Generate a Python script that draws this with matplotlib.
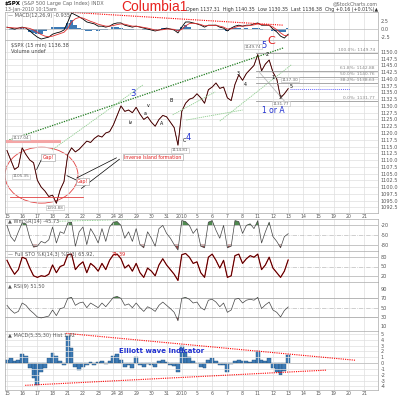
import numpy as np
import matplotlib.pyplot as plt
from matplotlib.patches import Ellipse

W, H = 400, 398

# trading days on the x axis (Dec 24 was a half session)
day_labels = ['15', '16', '17', '18', '21', '22', '23', '24', '28', '29', '30', '31', '2010',
              '5', '6', '7', '8', '11', '12', '13', '14', '15', '19', '20', '21']
day_lengths = [1, 1, 1, 1, 1, 1, 1, 0.5, 1, 1, 1, 1, 1, 1, 1, 1, 1, 1, 1, 1, 1, 1, 1, 1, 1]

# one value every quarter session, Dec 15 open -> Jan 13 10:15
price = [1113.5, 1110, 1106.5, 1107.5, 1114.5, 1112, 1110, 1109,
         1102.5, 1100, 1098.5, 1096.5, 1097, 1094, 1099, 1102,
         1112, 1114.5, 1113, 1114, 1115.5, 1117, 1116.5, 1118,
         1119, 1118.5, 1120, 1120.5, 1123, 1126.5, 1130, 1128,
         1128.5, 1127.5, 1129.5, 1127, 1125, 1126, 1124, 1122.5,
         1125, 1126.5, 1126, 1124, 1122, 1115.5, 1128, 1131,
         1132.5, 1133, 1134.5, 1133, 1131, 1136, 1137, 1138.5,
         1136.5, 1137, 1133, 1132, 1138, 1141.5, 1139.5, 1142,
         1143.5, 1145, 1149, 1143, 1145.5, 1147, 1142.5, 1140,
         1133, 1134.5, 1136.4]

macd_line = [0.6, 0.3, 0, 0.3, 0.6, 0.3, -0.6, -1.6, -2.5, -3.1, -2.8, -2.5, -1.6, -1.2, -0.9,
             -0.3, 2.2, 5.0, 4.4, 3.8, 3.1, 2.2, 1.9, 1.6, 0.9, 0.9, 0.6, 0.9, 1.6, 1.9,
             1.9, 1.2, 0.9, 0.6, 0.9, 0.6, 0.3, 0, -0.3, -0.6, -0.3, 0, 0.3, 0, -0.3,
             -1.2, 0.6, 2.2, 2.2, 1.9, 1.6, 1.2, 0.6, 1.2, 1.2, 1.2, 0.6, 0.3, -0.6, 0.3,
             0.9, 1.2, 0.9, 1.2, 1.2, 1.6, 1.9, 1.2, 1.2, 1.2, 0, -0.9, -2.2, -2.8, -1.6]
macd_signal = [0.5, 0.45, 0.35, 0.3, 0.4, 0.4, 0.2, -0.3, -1.0, -1.7, -2.2, -2.4, -2.2, -1.8, -1.4,
               -1.0, 0.2, 2.2, 3.2, 3.6, 3.4, 2.9, 2.4, 2.0, 1.5, 1.2, 0.9, 0.9, 1.1, 1.4,
               1.6, 1.5, 1.2, 0.9, 0.9, 0.7, 0.5, 0.3, 0.0, -0.3, -0.3, -0.2, 0.0, 0.0, -0.1,
               -0.6, -0.1, 1.0, 1.7, 1.8, 1.7, 1.4, 1.0, 1.1, 1.1, 1.2, 0.9, 0.6, 0.0, 0.1,
               0.5, 0.9, 0.9, 1.0, 1.1, 1.3, 1.6, 1.4, 1.3, 1.2, 0.6, -0.2, -1.2, -2.0, -1.9]

wpr = [-20, -55, -70, -40, -12, -15, -60, -88, -85, -70, -75, -65, -25, -75, -40, -45,
       -12, -10, -85, -40, -25, -80, -30, -50, -75, -30, -70, -25, -10, -8, -20, -60,
       -40, -70, -30, -80, -90, -40, -60, -85, -30, -20, -45, -60, -80, -97, -5, -8,
       -20, -45, -30, -85, -90, -10, -5, -35, -60, -20, -90, -85, -5, -8, -45, -20,
       -15, -30, -5, -75, -40, -10, -55, -70, -90, -55, -46]

sto = [70, 45, 25, 40, 80, 75, 45, 20, 15, 20, 18, 25, 55, 30, 50, 55,
       88, 90, 40, 55, 65, 30, 60, 50, 35, 60, 40, 70, 88, 90, 75, 45,
       55, 35, 60, 30, 15, 45, 35, 20, 55, 75, 55, 40, 25, 5, 88, 92,
       80, 60, 65, 30, 15, 80, 90, 70, 45, 70, 15, 20, 85, 90, 60, 75,
       85, 80, 90, 40, 55, 80, 45, 30, 15, 35, 71]

rsi = [55, 45, 38, 42, 60, 55, 45, 38, 30, 28, 30, 32, 45, 33, 48, 50,
       70, 72, 55, 60, 62, 50, 60, 55, 50, 60, 52, 62, 72, 74, 70, 55,
       58, 50, 60, 50, 42, 52, 48, 42, 55, 62, 55, 48, 40, 22, 70, 72,
       68, 60, 62, 50, 45, 66, 68, 62, 52, 60, 40, 45, 68, 70, 60, 66,
       68, 66, 72, 48, 56, 62, 45, 40, 30, 44, 51.5]

hist = [0.5, 0.8, 0.3, 0.6, 1.6, 1.2, -0.8, -2.5, -3.7, -1.5, -0.8, 0.8, 1.8, 1.2, 0.3,
        -0.3, 4.6, 2.6, -0.6, -1.1, -0.6, -0.4, 0.2, -0.3, 0.2, 0.4, -0.2, 0.3, 1.2, 1.5,
        0.6, -0.6, -0.4, -0.8, 1.1, -0.3, -0.6, -0.2, -0.4, -0.7, 0.3, 0.5, 0.2, -0.3, -0.5,
        -1.6, 2.9, 2.0, 1.0, 0.3, 0.1, -0.6, -0.9, 0.6, 0.8, 0.3, -0.3, -0.4, -1.6, -0.2,
        0.4, 0.5, 0.3, 0.4, 0.2, 0.5, 2.0, 0.6, 0.4, 0.8, -0.8, -1.5, -2.0, -1.3, 1.4]

# annotation geometry in (session, price)
trend_main = [(0, 1117.1), (18.2, 1151.5)]
trend_light = [[(2.96, 1113.7), (8.95, 1137.8)],
               [(10.9, 1126.7), (13.7, 1135.2)],
               [(11.8, 1124.8), (15.5, 1128.5)],
               [(14.0, 1124.4), (18.7, 1145.2)]]
fib_levels = [1149.74, 1142.88, 1140.76, 1138.63, 1131.77]
fib_names = ['100.0%', '61.8%', '50.0%', '38.2%', '0.0%']

x = np.arange(len(price)) * 0.25
starts = np.concatenate([[0], np.cumsum(day_lengths)[:-1]])
XMIN, XMAX = -0.13, 24.41
GRID = '#dedede'
FS = 3.6

fig = plt.figure(figsize=(W / 100, H / 100), dpi=100)


def panel(top, bottom, ylim, yticks, ylabels=None):
    ax = fig.add_axes([5 / W, 1 - bottom / H, 373 / W, (bottom - top) / H])
    ax.set_xlim(XMIN, XMAX)
    ax.set_ylim(*ylim)
    ax.set_xticks(starts)
    ax.set_xticklabels([])
    ax.set_yticks(yticks)
    ax.set_yticklabels(ylabels if ylabels else [f'{v:g}' for v in yticks])
    ax.yaxis.tick_right()
    ax.tick_params(length=0, labelsize=FS, colors='#555555', pad=2)
    ax.grid(True, axis='x', color=GRID, lw=0.5)
    for s in ax.spines.values():
        s.set_color('#aaaaaa')
        s.set_linewidth(0.5)
    return ax


# ---------- top MACD ----------
ax0 = panel(12, 40, (-3.4, 5.3), [-2.5, 0, 2.5], ['-2.5', '0.0', '2.5'])
ml = np.array(macd_line)
sg = np.array(macd_signal)
ax0.axhline(0, color='#bbbbbb', lw=0.5)
ax0.fill_between(x, ml - sg, 0, color='#3d7ab5', lw=0, step='mid')
ax0.plot(x, ml, color='black', lw=0.6)
ax0.plot(x, sg, color='#e03030', lw=0.6)
ax0.plot([4.2, 18.2], [5.2, 1.2], color='red', lw=0.8, ls=(0, (1, 1)))
ax0.text(0.1, 4.2, '— MACD(12,26,9) -0.935', fontsize=FS, color='#555555', va='center')

# ---------- price ----------
ax1 = panel(40, 213, (1090.4, 1154.4), np.arange(1092.5, 1151, 2.5),
            [f'{v:.1f}' for v in np.arange(1092.5, 1151, 2.5)])
ax1.grid(True, axis='y', color=GRID, lw=0.5)
ax1.set_xticklabels(day_labels)
ax1.tick_params(axis='x', labelsize=3.3, pad=0.8)
ax1.plot(x, price, color='#8b1a1a', lw=0.7)
ax1.plot(x, price, color='black', lw=0.3)

(a, b) = trend_main
ax1.plot([a[0], b[0]], [a[1], b[1]], color='#1e7b1e', lw=0.9, ls=(0, (1, 1)))
for (a, b) in trend_light:
    ax1.plot([a[0], b[0]], [a[1], b[1]], color='#8ccc8c', lw=0.6, ls=(0, (1.5, 1)))
ax1.plot([16.6, 18.3], [1142.5, 1131.5], color='#bbbbbb', lw=0.6)

for lvl, name in zip(fib_levels, fib_names):
    ax1.plot([16.4, 24.4], [lvl, lvl], color='#999999', lw=0.6)
    ax1.text(24.2, lvl + 0.3, f'{name}: {lvl:.2f}', fontsize=3.2, color='#888888',
             ha='right', va='bottom')
ax1.plot([18.6, 22.6], [1136.38, 1136.38], color='#6b6bff', lw=0.7, ls=(0, (1, 1)))
ax1.plot([0, 3.4], [1117.0, 1117.0], color='#f4a6a6', lw=2.2)

ax1.text(0.25, 1152.5, '$SPX (15 min) 1136.38', fontsize=FS, color='#444444', va='center')
ax1.text(0.25, 1150.3, 'Volume undef', fontsize=FS, color='#444444', va='center')


def tag(px, py, s):
    ax1.text(px, py, s, fontsize=3, color='#666666', ha='center', va='center',
             bbox=dict(boxstyle='square,pad=0.15', fc='white', ec='#bbbbbb', lw=0.4))


tag(0.9, 1118.3, '1117.04')
tag(0.9, 1104.0, '1105.35')
tag(3.15, 1092.3, '1093.88')
tag(11.4, 1113.6, '1114.81')
tag(16.2, 1151.9, '1149.74')
tag(18.0, 1130.9, '1131.77')
tag(18.6, 1139.7, '1137.30')

ax1.add_patch(Ellipse((2.27, 1104.4), 4.8, 20.7, fill=False, ec='#e04040', lw=0.6))
ax1.plot([0.2, 5.0], [1096.3, 1096.3], color='#e04040', lw=0.6)


def boxnote(px, py, s, fs=3.4):
    ax1.text(px, py, s, fontsize=fs, color='#e02020', ha='center', va='center',
             bbox=dict(boxstyle='square,pad=0.2', fc='white', ec='#999999', lw=0.4))


boxnote(2.7, 1110.8, 'Gap!')
ax1.plot([2.25, 1.95], [1110.0, 1106.5], color='black', lw=0.5)
boxnote(4.95, 1101.9, 'Gap!')
ax1.plot([4.6, 3.95], [1102.5, 1104.2], color='black', lw=0.5)
boxnote(9.6, 1111.1, 'Inverse Island formation')
ax1.plot([7.2, 4.6], [1110.8, 1103.4], color='black', lw=0.5)
ax1.plot([7.4, 4.9], [1110.3, 1099.5], color='black', lw=0.5)

for (px, py, s) in [(8.3, 1134.6, '3'), (11.9, 1118.3, '4'), (16.9, 1152.5, '5')]:
    ax1.text(px, py, s, fontsize=6, color='#2030d0', ha='center', va='center')
ax1.text(17.4, 1154.0, 'C', fontsize=8, color='#e02020', ha='center', va='center')
ax1.text(17.5, 1128.2, '1 or A', fontsize=5.5, color='#2030d0', ha='center', va='center')
for (px, py, s) in [(8.1, 1124.0, 'iv'), (9.3, 1130.2, 'v'), (9.1, 1127.2, 'a'),
                    (10.2, 1123.6, 'A'), (10.8, 1132.0, 'B'), (11.7, 1117.3, 'C'),
                    (15.2, 1142.0, '3'), (15.7, 1137.9, '4'), (17.1, 1149.1, '2'),
                    (17.5, 1140.6, '1'), (18.0, 1133.3, '3'), (18.7, 1137.2, '5')]:
    ax1.text(px, py, s, fontsize=3.4, color='black', ha='center', va='center')

# ---------- Williams %R ----------
ax2 = panel(219, 251, (-100, 0), [-80, -50, -20])
wp = np.array(wpr)
ax2.axhline(-20, color='#bbbbbb', lw=0.6)
ax2.axhline(-80, color='#bbbbbb', lw=0.6)
ax2.axhline(-50, color='#bbbbbb', lw=0.5, ls='-.')
ax2.fill_between(x, wp, -20, where=wp > -20, color='#4f8a4f', lw=0, interpolate=True)
ax2.fill_between(x, wp, -80, where=wp < -80, color='#9a4a4a', lw=0, interpolate=True)
ax2.plot(x, wp, color='#444444', lw=0.5)
ax2.plot([3.4, 8.5], [-7, -1], color='#6fbf6f', lw=0.6, ls=(0, (1, 1)))
ax2.text(0.1, -7, '▲ Wm%R(14) -45.73', fontsize=FS, color='#555555', va='center')

# ---------- Full STO ----------
ax3 = panel(251, 282, (0, 100), [20, 50, 80])
ax3.axhline(80, color='#bbbbbb', lw=0.6)
ax3.axhline(20, color='#bbbbbb', lw=0.6)
ax3.axhline(50, color='#bbbbbb', lw=0.5, ls='-.')
ax3.plot(x, sto, color='#c01010', lw=0.9)
ax3.plot(x, sto, color='black', lw=0.35)
ax3.text(0.1, 88, '— Full STO %K(14,3) %D(3) 65.92,', fontsize=FS, color='#555555', va='center')
ax3.text(6.9, 88, '71.39', fontsize=FS, color='#e02020', va='center')

# ---------- RSI ----------
ax4 = panel(282, 331, (0, 105), [10, 30, 50, 70, 90])
ax4.axhline(70, color='#aaaaaa', lw=0.6)
ax4.axhline(30, color='#aaaaaa', lw=0.6)
ax4.axhline(50, color='#bbbbbb', lw=0.5, ls='-.')
rs = np.array(rsi)
ax4.fill_between(x, rs, 70, where=rs > 70, color='#4f8a4f', lw=0, interpolate=True)
ax4.fill_between(x, rs, 30, where=rs < 30, color='#9a4a4a', lw=0, interpolate=True)
ax4.plot(x, rs, color='#444444', lw=0.5)
ax4.text(0.1, 96, '▲ RSI(9) 51.50', fontsize=FS, color='#555555', va='center')

# ---------- MACD histogram ----------
ax5 = panel(331, 390, (-4.6, 5.5), list(range(-4, 6)))
ax5.grid(True, axis='y', color=GRID, lw=0.5)
ax5.axhline(0, color='#bbbbbb', lw=0.5)
ax5.bar(x, hist, width=0.25, color='#3d7ab5', edgecolor='#1f4f7a', lw=0.3)
ax5.set_xticklabels(day_labels)
ax5.tick_params(axis='x', labelsize=3.3, pad=0.8)
ax5.plot([3.9, 22.9], [5.1, 0.5], color='red', lw=0.8, ls=(0, (1, 1)))
ax5.plot([1.2, 21.0], [-3.8, -1.2], color='red', lw=0.8, ls=(0, (1, 1)))
ax5.text(7.4, 1.8, 'Elliott wave Indicator', fontsize=5, color='#2030d0', fontweight='bold')
ax5.text(0.1, 4.8, '▲ MACD(5,35,30) Hist 1.42', fontsize=FS, color='#555555', va='center')

# ---------- header ----------
fig.text(5 / W, 1 - 4 / H, '$SPX', fontsize=4, fontweight='bold', va='center')
fig.text(22 / W, 1 - 4 / H, '(S&P 500 Large Cap Index) INDX', fontsize=3.6, color='#666666', va='center')
fig.text(5 / W, 1 - 9.5 / H, '13-Jan-2010 10:15am', fontsize=3.4, color='#666666', va='center')
fig.text(121 / W, 1 - 7 / H, 'Columbia1', fontsize=10, color='#e8221f', va='center',
         family='Liberation Sans')
fig.text(378 / W, 1 - 3.5 / H, '@StockCharts.com', fontsize=3.4, color='#666666',
         ha='right', va='center')
fig.text(378 / W, 1 - 9.5 / H,
         'Open 1137.31  High 1140.35  Low 1130.35  Last 1136.38  Chg +0.16 (+0.01%)▲',
         fontsize=3.4, color='#333333', ha='right', va='center')

fig.savefig('out.png', dpi=100)
